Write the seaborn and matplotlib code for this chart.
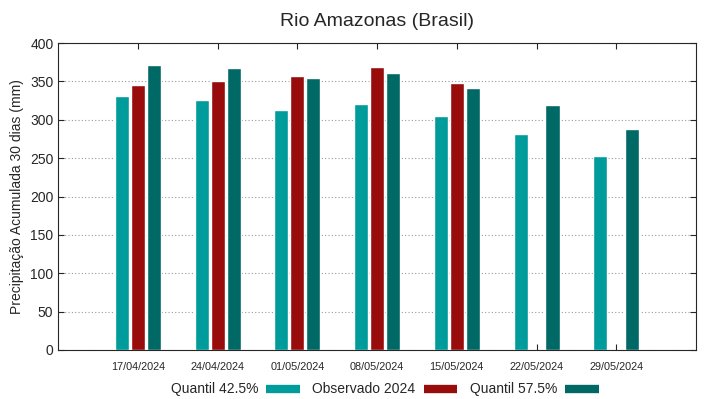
import matplotlib
matplotlib.use("Agg")
import matplotlib.pyplot as plt
import numpy as np
import pandas as pd
import seaborn as sns

datas = ["17/04/2024", "24/04/2024", "01/05/2024", "08/05/2024",
         "15/05/2024", "22/05/2024", "29/05/2024"]
q425 = [331, 326, 313, 320, 305, 281, 253]
obs2024 = [346, 350, 357, 369, 348, np.nan, np.nan]
q575 = [371, 367, 354, 361, 341, 319, 288]
series = ["Quantil 42.5%", "Observado 2024", "Quantil 57.5%"]
cores = ["#009b9b", "#990c0c", "#006966"]

df = pd.DataFrame({"data": datas, series[0]: q425, series[1]: obs2024, series[2]: q575})
df = df.melt(id_vars="data", var_name="serie", value_name="valor")

sns.set_style("ticks")
plt.rcParams["font.family"] = ["Liberation Sans", "DejaVu Sans"]

fig, ax = plt.subplots(figsize=(7.19, 3.99), dpi=100)
sns.barplot(data=df, x="data", y="valor", hue="serie", hue_order=series,
            palette=cores, width=0.6, gap=0.12, saturation=1, ax=ax)

ax.set_xlim(-1, 7)
ax.set_ylim(0, 400)
ax.set_yticks(range(0, 401, 50))
ax.yaxis.grid(True, linestyle=(0, (1, 2)), color="#999999", linewidth=0.8)
ax.set_axisbelow(True)
ax.tick_params(axis="x", labelsize=7.8, direction="in", length=4, top=True, pad=9)
ax.tick_params(axis="y", labelsize=10, direction="in", length=4, right=True)
ax.set_xlabel("")
ax.set_ylabel("Precipitação Acumulada 30 dias (mm)", fontsize=10)
ax.set_title("Rio Amazonas (Brasil)", fontsize=14, pad=12)
for s in ax.spines.values():
    s.set_linewidth(0.8)

handles = [plt.Line2D([], [], color=c, linewidth=6, solid_capstyle="butt") for c in cores]
ax.get_legend().remove()
fig.legend(handles, series, loc="lower center", ncol=3, frameon=False,
           markerfirst=False, fontsize=10, handlelength=2.4, handletextpad=0.6,
           columnspacing=0.9, bbox_to_anchor=(0.535, -0.025))

fig.subplots_adjust(left=0.081, right=0.968, top=0.892, bottom=0.123)
fig.savefig("out.png", dpi=100)
